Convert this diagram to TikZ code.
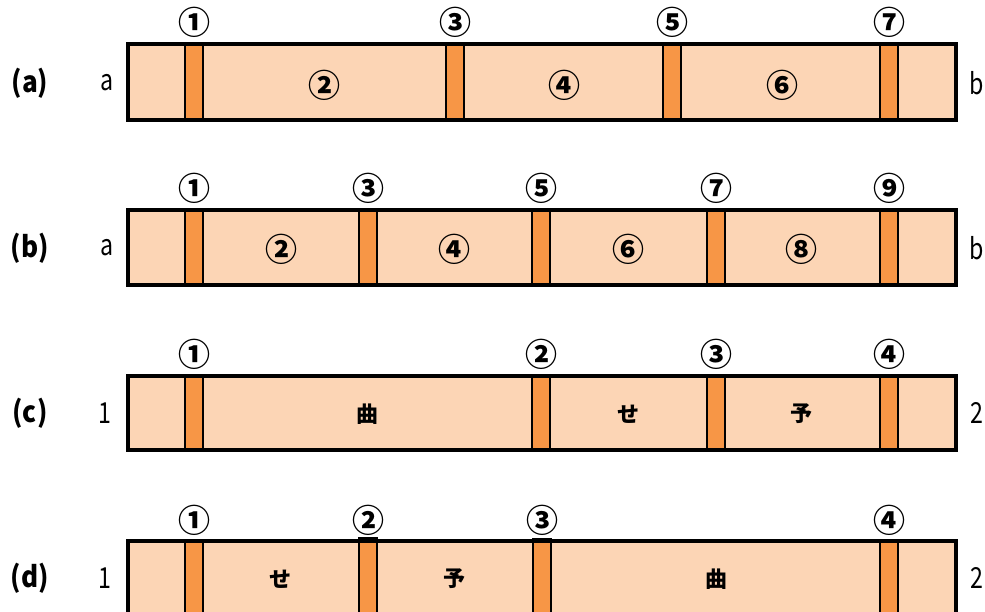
\documentclass[tikz,border=0pt]{standalone}
\usepackage{fontspec}
\setmainfont{Noto Sans CJK JP}
\definecolor{peach}{HTML}{FCD5B5}
\definecolor{barorange}{HTML}{F79646}

\begin{document}
\begin{tikzpicture}[x=1pt,y=-1pt,
  box/.style={draw=black,line width=3.5pt},
  bar/.style={fill=barorange,draw=black,line width=1.3pt},
  circ/.style={font=\fontsize{32}{32}\selectfont\bfseries,inner sep=0pt},
  kanji/.style={font=\fontsize{22}{22}\selectfont\bfseries,inner sep=0pt},
  tag/.style={font=\fontsize{29}{29}\selectfont\bfseries,inner sep=0pt,xscale=.9},
  side/.style={font=\fontsize{29}{29}\selectfont,inner sep=0pt,xscale=.8}]
\useasboundingbox (0,0) rectangle (985,612);
\clip (0,0) rectangle (985,612);
% (a)
\fill[peach] (128,44) rectangle (956,120);
\foreach \x in {194,455,672,889} \draw[bar] (\x-9,44) rectangle (\x+9,120);
\draw[box] (128,44) rectangle (956,120);
\node[tag] (ta) at (30,83) {(a)};
\node[side] (la) at (107,83) {a};
\node[side] (ra) at (977,83) {b};
\node[circ] (a1) at (194,22) {①};
\node[circ] (a3) at (455,22) {③};
\node[circ] (a5) at (672,22) {⑤};
\node[circ] (a7) at (889,22) {⑦};
\node[circ] (a2) at (324,85) {②};
\node[circ] (a4) at (564,85) {④};
\node[circ] (a6) at (782,85) {⑥};
% (b)
\fill[peach] (128,210) rectangle (956,285);
\foreach \x in {194,368,541,716,889} \draw[bar] (\x-9,210) rectangle (\x+9,285);
\draw[box] (128,210) rectangle (956,285);
\node[tag] (tb) at (30,248) {(b)};
\node[side] (lb) at (107,248) {a};
\node[side] (rb) at (977,248) {b};
\node[circ] (b1) at (194,188) {①};
\node[circ] (b3) at (368,188) {③};
\node[circ] (b5) at (541,188) {⑤};
\node[circ] (b7) at (716,188) {⑦};
\node[circ] (b9) at (889,188) {⑨};
\node[circ] (b2) at (281,249) {②};
\node[circ] (b4) at (454,249) {④};
\node[circ] (b6) at (628,249) {⑥};
\node[circ] (b8) at (801,249) {⑧};
% (c)
\fill[peach] (128,376) rectangle (956,450);
\foreach \x in {194,541,716,889} \draw[bar] (\x-9,376) rectangle (\x+9,450);
\draw[box] (128,376) rectangle (956,450);
\node[tag] (tc) at (30,413) {(c)};
\node[side] (lc) at (105,413) {1};
\node[side] (rc) at (977,413) {2};
\node[circ] (c1) at (194,354) {①};
\node[circ] (c2) at (541,354) {②};
\node[circ] (c3) at (716,354) {③};
\node[circ] (c4) at (889,354) {④};
\node[kanji] (ck) at (367,414) {曲};
\node[kanji] (cs) at (628,414) {せ};
\node[kanji] (cy) at (801,414) {予};
% (d)
\fill[peach] (128,541) rectangle (956,617);
\draw[bar] (185,541) rectangle (203,617);
\draw[bar] (359,538) rectangle (377,617);
\draw[bar] (533,539) rectangle (551,617);
\draw[bar] (880,541) rectangle (898,617);
\draw[box] (128,541) rectangle (956,617);
\node[tag] (td) at (30,578) {(d)};
\node[side] (ld) at (105,578) {1};
\node[side] (rd) at (977,578) {2};
\node[circ] (d1) at (194,520) {①};
\node[circ] (d2) at (368,520) {②};
\node[circ] (d3) at (542,520) {③};
\node[circ] (d4) at (889,520) {④};
\node[kanji] (ds) at (280,579) {せ};
\node[kanji] (dy) at (454,579) {予};
\node[kanji] (dk) at (716,579) {曲};
\end{tikzpicture}
\end{document}
